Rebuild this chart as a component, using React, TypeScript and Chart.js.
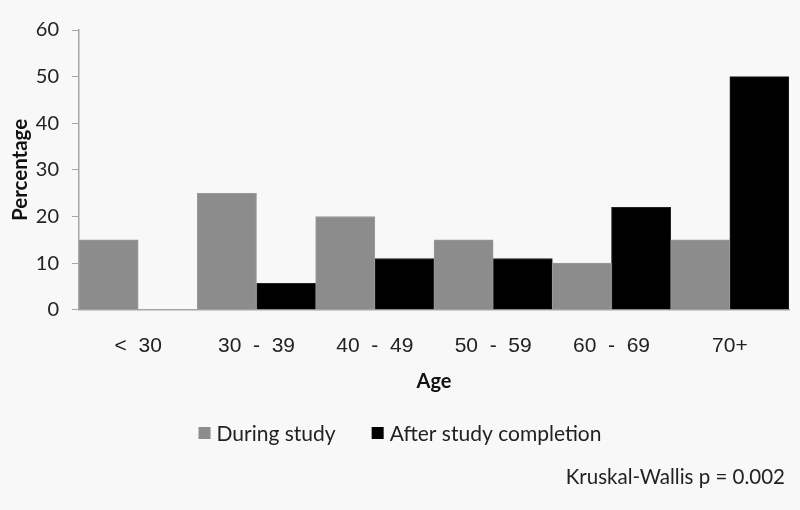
import React, { useEffect, useRef } from "react";
import { Chart, registerables } from "chart.js";

Chart.register(...registerables);

const categories = ["<  30", "30  -  39", "40  -  49", "50  -  59", "60  -  69", "70+"];
const duringStudy = [15, 25, 20, 15, 10, 15];
const afterCompletion = [0, 5.7, 11, 11, 22, 50];
const yTicks = [0, 10, 20, 30, 40, 50, 60];
const seriesNames = ["During study", "After study completion"];
const seriesColors = ["#8c8c8c", "#000000"];
const annotationText = "Kruskal-Wallis p = 0.002";

const BG = "#f8f8f8";
const AXIS = "#a6a6a6";

export default function App() {
  const ref = useRef<HTMLCanvasElement | null>(null);

  useEffect(() => {
    document.body.style.margin = "0";
    document.body.style.background = BG;
    const canvas = ref.current!;
    const annotate = {
      id: "annotate",
      beforeDraw(chart: any) {
        const ctx = chart.ctx;
        ctx.save();
        ctx.fillStyle = BG;
        ctx.fillRect(0, 0, chart.width, chart.height);
        ctx.restore();
      },
      afterDraw(chart: any) {
        const ctx = chart.ctx;
        ctx.save();
        // legend
        ctx.font = "21px Lato";
        ctx.textBaseline = "middle";
        ctx.textAlign = "left";
        const box = 12;
        const gapText = 6;
        const gapItem = 36;
        const widths = seriesNames.map((n) => ctx.measureText(n).width);
        const total = widths.reduce((a, w) => a + box + gapText + w, 0) + gapItem * (seriesNames.length - 1);
        let x = 400 - total / 2;
        const y = 433;
        seriesNames.forEach((n, i) => {
          ctx.fillStyle = seriesColors[i];
          ctx.fillRect(x, y - box / 2, box, box);
          x += box + gapText;
          ctx.fillStyle = "#222";
          ctx.fillText(n, x, y + 1);
          x += widths[i] + gapItem;
        });
        // annotation
        ctx.font = "20.5px Lato";
        ctx.fillStyle = "#222";
        ctx.textAlign = "right";
        ctx.fillText(annotationText, 785, 477);
        ctx.restore();
      },
    };
    const fillFor = (color: string) => (c: any) => (c.raw === 0 ? "rgba(0,0,0,0)" : color);
    const chart = new Chart(canvas, {
      type: "bar",
      data: {
        labels: categories,
        datasets: [
          {
            label: seriesNames[0],
            data: duringStudy,
            backgroundColor: fillFor(seriesColors[0]),
            borderColor: "#9a9a9a",
            borderWidth: (c: any) => (c.raw === 0 ? 0 : 1),
            categoryPercentage: 1,
            barPercentage: 1,
          },
          {
            label: seriesNames[1],
            data: afterCompletion,
            backgroundColor: fillFor(seriesColors[1]),
            borderColor: "#222",
            borderWidth: (c: any) => (c.raw === 0 ? 0 : 1),
            categoryPercentage: 1,
            barPercentage: 1,
          },
        ],
      },
      options: {
        animation: false,
        responsive: false,
        layout: { padding: { left: 0, top: 30, right: 11, bottom: 116 } },
        plugins: {
          tooltip: { enabled: false },
          legend: { display: false },
        },
        scales: {
          x: {
            grid: { display: false, drawTicks: false },
            border: { color: AXIS, width: 1.5 },
            ticks: {
              font: { family: "Liberation Sans", size: 21 },
              color: "#222",
              padding: 24,
              maxRotation: 0,
            },
            title: {
              display: true,
              text: "Age",
              font: { family: "Lato", size: 20, weight: "bold" },
              color: "#111",
              padding: { top: -13, bottom: 0 },
            },
          },
          y: {
            min: 0,
            max: 60,
            afterBuildTicks: (axis: any) => {
              axis.ticks = yTicks.map((v) => ({ value: v }));
            },
            afterFit: (axis: any) => {
              axis.width = 79;
            },
            grid: { display: true, drawOnChartArea: false, tickLength: 7, color: AXIS },
            border: { color: AXIS, width: 1.5 },
            ticks: {
              font: { family: "Lato", size: 20 },
              color: "#222",
              padding: 13,
            },
            title: {
              display: true,
              text: "Percentage",
              font: { family: "Lato", size: 20.5, weight: "bold" },
              color: "#111",
              padding: { top: 8, bottom: 0 },
            },
          },
        },
      },
      plugins: [annotate],
    });
    return () => chart.destroy();
  }, []);

  return (
    <div style={{ position: "absolute", left: 0, top: 0, width: 800, height: 510, background: BG }}>
      <canvas ref={ref} width={800} height={510} />
    </div>
  );
}
